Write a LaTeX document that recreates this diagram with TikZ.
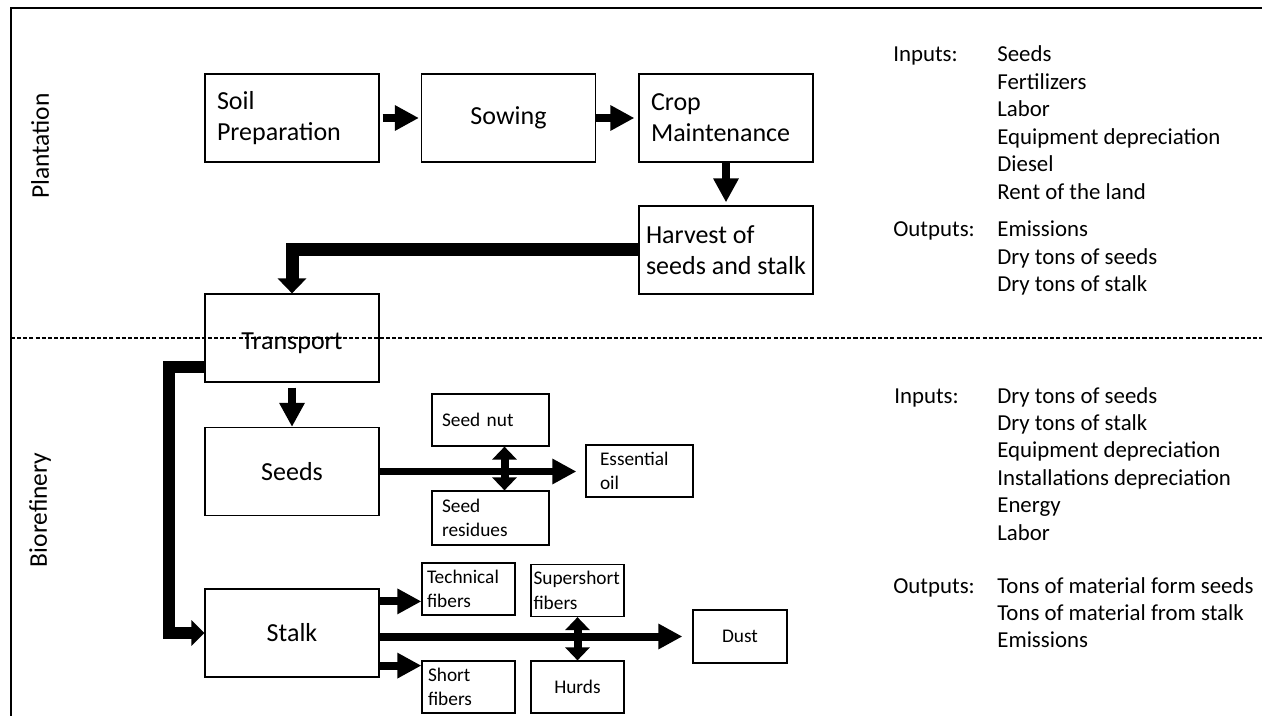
\documentclass[tikz,border=0pt]{standalone}
\usepackage{fontspec}
\setmainfont{Carlito}
\usetikzlibrary{arrows.meta,calc}

\tikzset{
  stage/.style={draw, line width=0.7pt, minimum width=3.48cm, minimum height=1.76cm,
    font=\fontsize{14.8}{17.5}\selectfont, align=center},
  stageleft/.style={stage, text width=3.0cm, align=left},
  part/.style={draw, line width=0.7pt, minimum height=1.04cm, inner xsep=0.05cm,
    font=\fontsize{11}{14}\selectfont, align=left},
  info/.style={anchor=base west, inner sep=0pt, font=\fontsize{13}{15.6}\selectfont},
  phase/.style={rotate=90, font=\fontsize{14.5}{17}\selectfont},
  flow/.style={line width=0.16cm, -{Triangle[width=0.48cm,length=0.48cm]}},
  bigflow/.style={line width=0.26cm, line join=miter, -{Triangle[width=0.56cm,length=0.3cm]}},
  sideflow/.style={line width=0.24cm, line join=miter, -{Triangle[width=0.5cm,length=0.26cm]}},
  twoway/.style={line width=0.16cm, {Triangle[width=0.48cm,length=0.26cm]}-{Triangle[width=0.48cm,length=0.26cm]}},
  boundary/.style={line width=0.6pt, dash pattern=on 2.3pt off 1.2pt}
}

\begin{document}
\begin{tikzpicture}[x=0.02cm, y=-0.02cm]
\useasboundingbox (0,0) rectangle (1262,716);

% frame and phase split
\draw[line width=1.2pt] (11,716) -- (11,8) -- (1262,8);
\draw[boundary] (11,338) -- (1262,338);
\node[phase] (plantation) at (40,146) {Plantation};
\node[phase] (biorefinery) at (40,510) {Biorefinery};

% plantation stages
\node[stageleft] (soil) at (292,118) {Soil\\Preparation};
\node[stage] (sow) at (508.5,118) {Sowing};
\node[stageleft] (crop) at (726,118) {Crop\\Maintenance};
\node[stage, align=left] (harvest) at (726,250) {Harvest of\\seeds and stalk};
\node[stage, text height=0.55cm] (transport) at (292,338) {Transport};

% biorefinery
\node[stage] (seeds) at (292,471.5) {Seeds};
\node[stage] (stalk) at (292,633) {Stalk};
\node[part, minimum width=2.34cm, text width=1.94cm] (nut) at (490.5,420) {Seed nut};
\node[part, minimum width=2.34cm, text width=1.94cm, minimum height=1.08cm] (res) at (490.5,518) {Seed\\residues};
\node[part, minimum width=2.14cm, text width=1.58cm] (oil) at (639.5,471) {Essential\\oil};
\node[part, minimum width=1.86cm, text width=1.66cm] (tech) at (468.5,589) {Technical\\fibers};
\node[part, minimum width=1.86cm, text width=1.76cm] (super) at (577.5,590.5) {Supershort\\fibers};
\node[part, minimum width=1.86cm, text width=1.62cm] (short) at (468.5,687) {Short\\fibers};
\node[part, minimum width=1.86cm, align=center] (hurds) at (577.5,687) {Hurds};
\node[part, minimum width=1.88cm, minimum height=1.06cm, align=center] (dust) at (740,636.5) {Dust};

% connectors
\draw[flow, shorten <=0.06cm, shorten >=0.04cm] (soil) -- (sow);
\draw[flow, shorten >=0.08cm] (sow) -- (crop);
\draw[flow, shorten >=0.06cm] (crop) -- (harvest);
\draw[bigflow] (harvest.west) -| (transport.north);
\draw[flow, shorten <=0.1cm] (transport) -- (seeds);
\draw[sideflow] ([yshift=-0.58cm]transport.west) -- ++(-35,0) |- (stalk.west);
\draw[flow, shorten >=0.18cm] (seeds.east) -- (seeds.east -| oil.west);
\draw[twoway] ([xshift=0.28cm]nut.south) -- ([xshift=0.28cm]res.north);
\coordinate (tf) at ([yshift=-0.26cm]stalk.north east);
\coordinate (sf) at ([yshift=0.24cm]stalk.south east);
\draw[flow] (tf) -- (tf -| tech.west);
\draw[flow] (sf) -- (sf -| short.west);
\draw[flow, shorten >=0.2cm] (stalk.east |- dust.west) -- (dust.west);
\draw[twoway] (super) -- (hurds);

% plantation inputs and outputs
\node[info] (pin) at (893,62) {Inputs:};
\foreach \t [count=\i] in {Seeds,Fertilizers,Labor,Equipment depreciation,Diesel,Rent of the land}
  \node[info] (pin\i) at (997,{62+27.5*(\i-1)}) {\t};
\node[info] (pout) at (893,237) {Outputs:};
\foreach \t [count=\i] in {Emissions,Dry tons of seeds,Dry tons of stalk}
  \node[info] (pout\i) at (997,{237+27.5*(\i-1)}) {\t};

% biorefinery inputs and outputs
\node[info] (bin) at (894,403) {Inputs:};
\foreach \t [count=\i] in {Dry tons of seeds,Dry tons of stalk,Equipment depreciation,Installations depreciation,Energy,Labor}
  \node[info] (bin\i) at (997,{403+27.4*(\i-1)}) {\t};
\node[info] (bout) at (893,593) {Outputs:};
\foreach \t [count=\i] in {Tons of material form seeds,Tons of material from stalk,Emissions}
  \node[info] (bout\i) at (997,{593+27*(\i-1)}) {\t};
\end{tikzpicture}
\end{document}
